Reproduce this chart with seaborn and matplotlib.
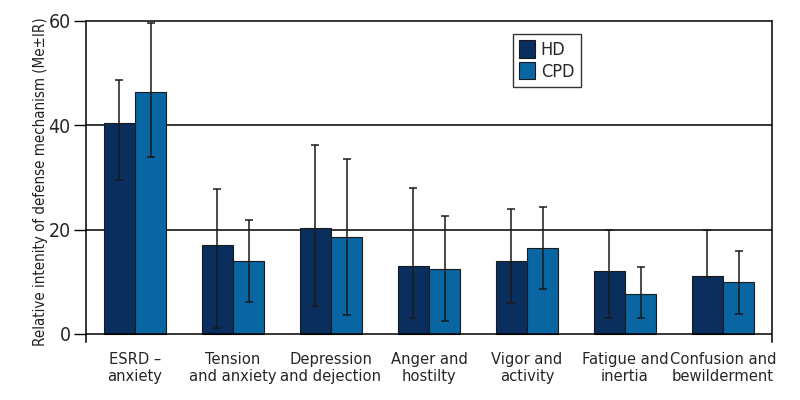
import matplotlib
matplotlib.use("Agg")
import matplotlib.pyplot as plt
import matplotlib.font_manager as fm
import seaborn as sns
import pandas as pd
import numpy as np
from matplotlib.patches import Patch

categories = ["ESRD –\nanxiety", "Tension\nand anxiety", "Depression\nand dejection",
              "Anger and\nhostilty", "Vigor and\nactivity", "Fatigue and\ninertia",
              "Confusion and\nbewilderment"]
groups = ["HD", "CPD"]
hd_median = [40.5, 17.0, 20.4, 13.0, 13.9, 12.0, 11.1]
hd_upper = [48.6, 27.7, 36.2, 28.0, 23.9, 19.9, 19.9]
hd_lower = [29.5, 1.1, 5.4, 3.0, 5.9, 3.0, 11.0]
cpd_median = [46.4, 14.0, 18.5, 12.5, 16.4, 7.6, 10.0]
cpd_upper = [59.7, 21.9, 33.5, 22.7, 24.4, 12.9, 16.0]
cpd_lower = [33.9, 6.1, 3.6, 2.5, 8.6, 3.0, 3.9]
colors = ["#0a2f5e", "#0966a3"]

sns.set_style("white")

# look for a condensed face
cond = None
for f in fm.fontManager.ttflist:
    fn = f.fname.lower()
    if ("narrow" in fn or "condensed" in fn) and not any(s in fn for s in ["bold", "oblique", "italic", "light", "black", "thin", "medium", "semi"]):
        if cond is None or "dejavusans" in fn.replace("-", "").replace("_", ""):
            cond = f
if cond is not None:
    plt.rcParams['font.family'] = [cond.name, 'DejaVu Sans']
    plt.rcParams['font.stretch'] = cond.stretch
    scale = 1.0
else:
    plt.rcParams['font.family'] = ['DejaVu Sans']
    scale = 0.8

df = pd.DataFrame({
    "category": categories * 2,
    "group": [groups[0]] * len(categories) + [groups[1]] * len(categories),
    "value": hd_median + cpd_median,
})

fig = plt.figure(figsize=(8, 4), dpi=100)
ax = fig.add_axes([0.1075, 0.1455, 0.8575, 0.802])

sns.barplot(data=df, x="category", y="value", hue="group", order=categories,
            hue_order=groups, palette=colors, width=0.64, gap=0,
            edgecolor="#1a1a1a", linewidth=0.8, errorbar=None, legend=False, ax=ax,
            saturation=1)

lows = [hd_lower, cpd_lower]
highs = [hd_upper, cpd_upper]
meds = [hd_median, cpd_median]
bar_containers = list(ax.containers)
for k, cont in enumerate(bar_containers):
    for j, bar in enumerate(cont.patches):
        xc = bar.get_x() + bar.get_width() / 2
        m = meds[k][j]
        ax.errorbar([xc], [m], yerr=[[m - lows[k][j]], [highs[k][j] - m]],
                    fmt="none", ecolor="#1a1a1a", elinewidth=1.1, capsize=2.6,
                    capthick=1.1, zorder=5)

for yv in [20, 40, 60]:
    ax.axhline(yv, color="black", linewidth=1.1, zorder=0.5, clip_on=False)
ax.axhline(0, color="black", linewidth=1.1, zorder=6)

ax.set_xlim(-0.5, 6.5)
ax.set_ylim(-1.5, 60)
ax.set_yticks([0, 20, 40, 60])
ax.tick_params(axis="y", which="major", direction="out", length=9, width=1.0,
               labelsize=14 * scale, left=True, color="black", pad=2)
ax.tick_params(axis="x", length=0, labelsize=11.8 * scale, pad=7)
for lab in ax.get_xticklabels():
    lab.set_linespacing(1.2)

ax.spines["top"].set_visible(False)
ax.spines["bottom"].set_visible(False)
for s in ["left", "right"]:
    ax.spines[s].set_color("black")
    ax.spines[s].set_linewidth(1.1)
ax.spines["left"].set_bounds(-1.5, 60)
ax.spines["right"].set_bounds(-1.5, 60)

ax.set_xlabel("")
ax.set_ylabel("Relative intenity of defense mechanism (Me±IR)",
              fontsize=10.8 * scale, labelpad=0, color="#222222")

handles = [Patch(facecolor=colors[0], edgecolor="#1a1a1a", linewidth=0.8),
           Patch(facecolor=colors[1], edgecolor="#1a1a1a", linewidth=0.8)]
leg = ax.legend(handles, groups, loc="upper left", bbox_to_anchor=(0.641, 0.915),
                bbox_transform=fig.transFigure, frameon=True, fancybox=False,
                fontsize=13 * scale, handlelength=0.9, handleheight=1.1, handletextpad=0.3,
                labelspacing=0.15, borderpad=0.35, borderaxespad=0)
leg.get_frame().set_edgecolor("black")
leg.get_frame().set_linewidth(1.0)

fig.savefig("out.png", dpi=100)
